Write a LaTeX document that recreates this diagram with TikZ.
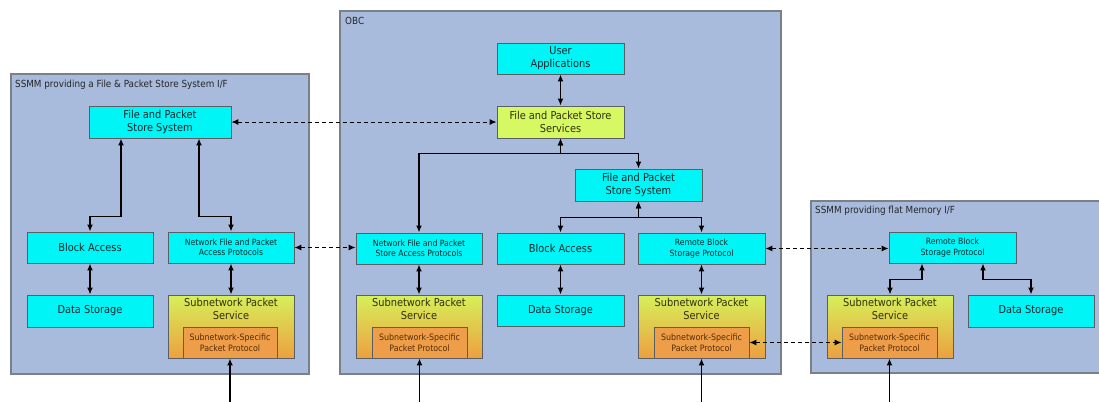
\documentclass[tikz,border=0pt]{standalone}
\usepackage{fontspec}
\setmainfont{DejaVu Sans Condensed}
\usetikzlibrary{arrows.meta,shadings}
\definecolor{contfill}{HTML}{A8BBDC}
\definecolor{contline}{HTML}{7A7F88}
\definecolor{cyanbox}{HTML}{00F6F6}
\definecolor{limebox}{HTML}{D6F862}
\definecolor{spstop}{HTML}{D6F05A}
\definecolor{spsbot}{HTML}{EDA040}
\definecolor{innerfill}{HTML}{EE9E48}
\definecolor{boxline}{HTML}{5A5F66}
\definecolor{boxtext}{HTML}{08262C}
\definecolor{spstext}{HTML}{30300C}
\definecolor{innertext}{HTML}{552C06}
\begin{document}
\begin{tikzpicture}[x=1pt,y=-1pt,
  container/.style={draw=contline, line width=1.1pt, fill=contfill, inner sep=0pt},
  ctitle/.style={font=\fontsize{9.8}{11}\selectfont, text=black!85, inner sep=0pt, anchor=north west},
  cbox/.style={draw=boxline, line width=0.9pt, fill=cyanbox, inner sep=0pt, align=center, text=boxtext, font=\fontsize{10.9}{13}\selectfont},
  cboxs/.style={cbox, font=\fontsize{8.6}{10.5}\selectfont},
  lbox/.style={cbox, fill=limebox, text=spstext},
  spsbox/.style={draw=boxline, line width=0.9pt, top color=spstop, bottom color=spsbot, inner sep=0pt},
  spstitle/.style={align=center, text=spstext, font=\fontsize{10.9}{13}\selectfont, inner sep=0pt, anchor=north},
  innerbox/.style={draw=boxline, line width=0.9pt, fill=innerfill, inner sep=0pt, align=center, text=innertext, font=\fontsize{8.8}{10.5}\selectfont},
  both/.style={line width=1.5pt, {Latex[length=7pt,width=6pt]}-{Latex[length=7pt,width=6pt]}},
  one/.style={line width=1.5pt, -{Latex[length=7pt,width=6pt]}},
  dboth/.style={line width=1pt, dash pattern=on 4pt off 3pt, {Latex[length=7pt,width=6pt]}-{Latex[length=7pt,width=6pt]}}
]
\useasboundingbox (0,0) rectangle (1099,402);
\clip (0,0) rectangle (1099,402);
\fill[white] (0,0) rectangle (1099,402);

% containers
\node[container, minimum width=298, minimum height=300] (left) at (160,224) {};
\node[ctitle] (lefttitle) at (15,80) {SSMM providing a File \& Packet Store System I/F};
\node[container, minimum width=441, minimum height=363] (obc) at (560.5,192.5) {};
\node[ctitle] (obctitle) at (345,17) {OBC};
\node[container, minimum width=294, minimum height=172] (right) at (958,287) {};
\node[ctitle] (righttitle) at (815,206) {SSMM providing flat Memory I/F};

% left SSMM
\node[cbox, minimum width=142, minimum height=32] (fpss1) at (160,122) {File and Packet\\Store System};
\node[cbox, minimum width=126, minimum height=31] (ba1) at (90,247.5) {Block Access};
\node[cboxs, minimum width=126, minimum height=31] (nfpap1) at (231,247.5) {Network File and Packet\\Access Protocols};
\node[cbox, minimum width=126, minimum height=32] (ds1) at (90,311) {Data Storage};
\node[spsbox, minimum width=126, minimum height=63] (sps1) at (231,326.5) {};
\node[spstitle] (sps1t) at (231,298) {Subnetwork Packet\\Service};
\node[innerbox, minimum width=94, minimum height=31] (ssp1) at (230,342.5) {Subnetwork-Specific\\Packet Protocol};

% OBC
\node[cbox, minimum width=127, minimum height=31] (ua) at (560.5,58.5) {User\\Applications};
\node[lbox, minimum width=127, minimum height=32] (fpsserv) at (560.5,122) {File and Packet Store\\Services};
\node[cbox, minimum width=127, minimum height=32] (fpss2) at (638.5,185) {File and Packet\\Store System};
\node[cboxs, minimum width=126, minimum height=31] (nfpsap) at (419,248.5) {Network File and Packet\\Store Access Protocols};
\node[cbox, minimum width=127, minimum height=31] (ba2) at (560.5,248.5) {Block Access};
\node[cboxs, minimum width=127, minimum height=31] (rbsp2) at (701.5,248.5) {Remote Block\\Storage Protocol};
\node[spsbox, minimum width=126, minimum height=63] (sps2) at (419,326.5) {};
\node[spstitle] (sps2t) at (419,298) {Subnetwork Packet\\Service};
\node[innerbox, minimum width=95, minimum height=31] (ssp2) at (419.5,342.5) {Subnetwork-Specific\\Packet Protocol};
\node[cbox, minimum width=127, minimum height=31] (ds2) at (560.5,310.5) {Data Storage};
\node[spsbox, minimum width=127, minimum height=63] (sps3) at (701.5,326.5) {};
\node[spstitle] (sps3t) at (701.5,298) {Subnetwork Packet\\Service};
\node[innerbox, minimum width=95, minimum height=31] (ssp3) at (701.5,342.5) {Subnetwork-Specific\\Packet Protocol};

% right SSMM
\node[cboxs, minimum width=127, minimum height=31] (rbsp3) at (952.5,247.5) {Remote Block\\Storage Protocol};
\node[spsbox, minimum width=126, minimum height=63] (sps4) at (890,326.5) {};
\node[spstitle] (sps4t) at (890,298) {Subnetwork Packet\\Service};
\node[innerbox, minimum width=95, minimum height=31] (ssp4) at (889.5,342.5) {Subnetwork-Specific\\Packet Protocol};
\node[cbox, minimum width=126, minimum height=32] (ds3) at (1031,311) {Data Storage};

% bottom inputs
\coordinate (in1) at (230,402);
\coordinate (in2) at (419.5,402);
\coordinate (in3) at (701.5,402);
\coordinate (in4) at (889.5,402);

% connectors left
\draw[both] ([xshift=-39pt]fpss1.south) -- ++(0,78) -| (ba1.north);
\draw[both] ([xshift=39pt]fpss1.south) -- ++(0,78) -| (nfpap1.north);
\draw[both] (ba1.south) -- (ds1.north);
\draw[both] (nfpap1.south) -- (sps1.north);
\draw[one] (in1) -- (ssp1.south);

% connectors OBC
\draw[both] (ua.south) -- (fpsserv.north);
\draw[both] (fpsserv.south) -- ++(0,15) -| (nfpsap.north);
\draw[both] (fpsserv.south) -- ++(0,15) -| (fpss2.north);
\draw[both] (fpss2.south) -- ++(0,16) -| (ba2.north);
\draw[both] (fpss2.south) -- ++(0,16) -| (rbsp2.north);
\draw[both] (nfpsap.south) -- (sps2.north);
\draw[both] (ba2.south) -- (ds2.north);
\draw[both] (rbsp2.south) -- (sps3.north);
\draw[one] (in2) -- (ssp2.south);
\draw[one] (in3) -- (ssp3.south);

% connectors right
\draw[both] ([xshift=-30.5pt]rbsp3.south) -- ++(0,16) -| (sps4.north);
\draw[both] ([xshift=30.5pt]rbsp3.south) -- ++(0,16) -| (ds3.north);
\draw[one] (in4) -- (ssp4.south);

% dashed links
\draw[dboth] (fpss1.east) -- (fpsserv.west);
\draw[dboth] (nfpap1.east) -- (nfpap1.east -| nfpsap.west);
\draw[dboth] (rbsp2.east) -- (rbsp2.east -| rbsp3.west);
\draw[dboth] (ssp3.east) -- (ssp4.west);
\end{tikzpicture}
\end{document}
